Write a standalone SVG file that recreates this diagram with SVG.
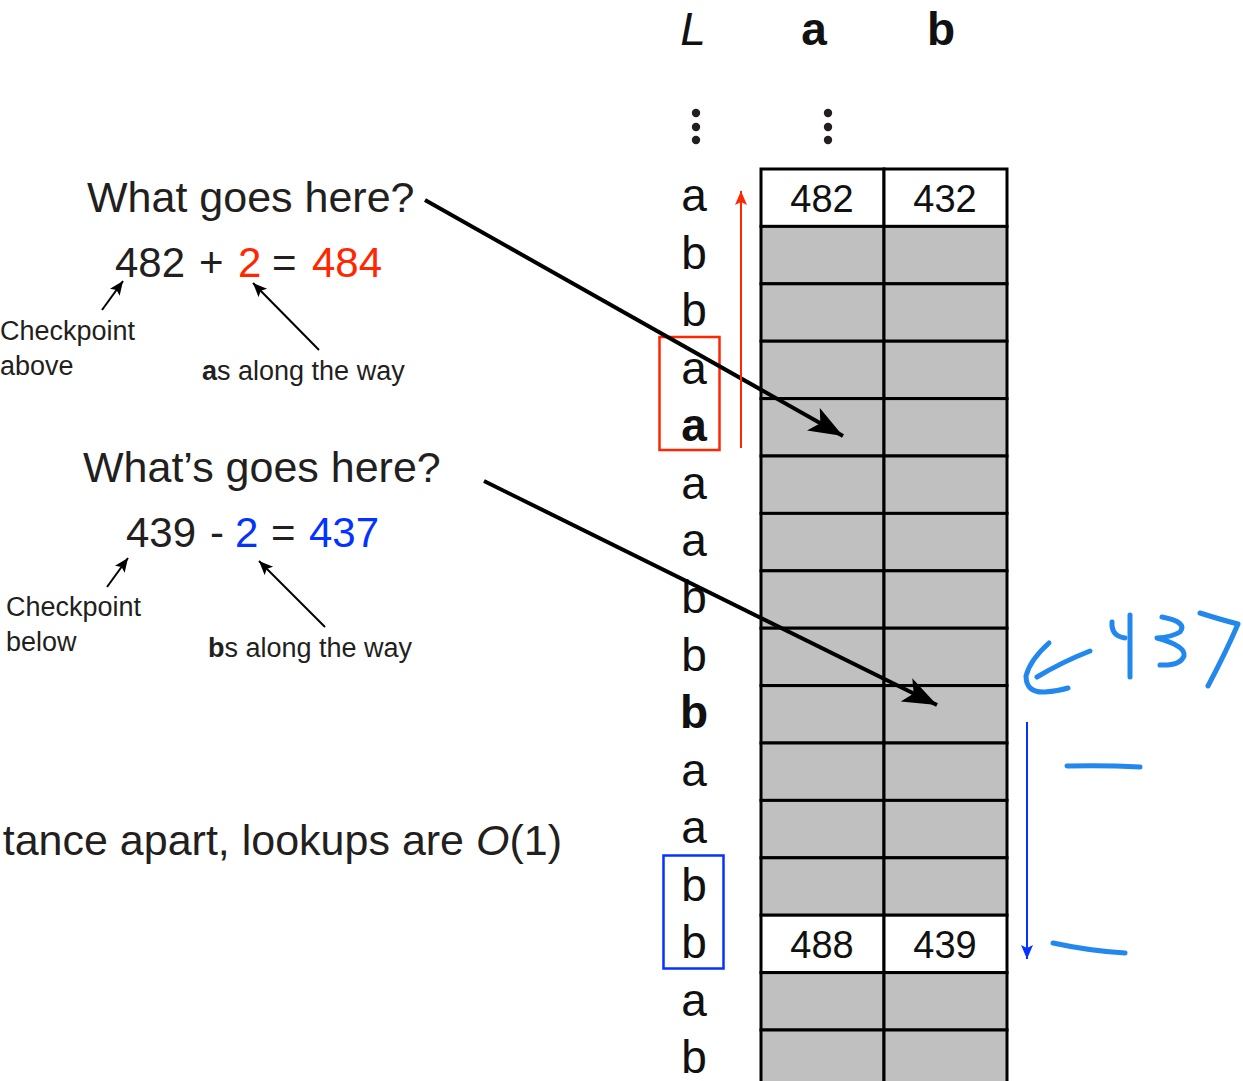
<svg xmlns="http://www.w3.org/2000/svg" width="1243" height="1081" viewBox="0 0 1243 1081">
<style>
.t{font-family:"Liberation Sans",Arial,sans-serif;fill:#231f20}
.big{font-size:43px}
.num{font-size:42px}
.sm{font-size:27px}
.lc{font-family:"Liberation Sans",Arial,sans-serif;font-size:46px;fill:#111;text-anchor:middle}
.cell{font-family:"Liberation Sans",Arial,sans-serif;font-size:38px;fill:#111;text-anchor:middle}
.g{fill:#c0c0c0;stroke:#000;stroke-width:3}
.w{fill:#fff;stroke:#000;stroke-width:3}
.hand{fill:none;stroke:#2288ee;stroke-width:5;stroke-linecap:round;stroke-linejoin:round}
</style>
<defs>
<marker id="bigArr" markerUnits="userSpaceOnUse" markerWidth="44" markerHeight="34" refX="34" refY="13" orient="auto">
<path d="M0,0 L34,13 L0,26 L8,13 Z" fill="#000"/>
</marker>
<marker id="smArr" markerUnits="userSpaceOnUse" markerWidth="20" markerHeight="16" refX="14" refY="6" orient="auto">
<path d="M0,0 L14,6 L0,12 L3,6 Z" fill="#000"/>
</marker>
<marker id="redArr" markerUnits="userSpaceOnUse" markerWidth="20" markerHeight="16" refX="14" refY="6" orient="auto">
<path d="M0,0 L14,6 L0,12 L3,6 Z" fill="#ff2600"/>
</marker>
<marker id="blueArr" markerUnits="userSpaceOnUse" markerWidth="20" markerHeight="16" refX="14" refY="6" orient="auto">
<path d="M0,0 L14,6 L0,12 L3,6 Z" fill="#0433ff"/>
</marker>
</defs>

<g id="header">
<text class="lc" x="693" y="45" font-style="italic">L</text>
<text class="lc" x="814" y="45" font-weight="bold">a</text>
<text class="lc" x="941" y="45" font-weight="bold">b</text>
<g fill="#231f20">
<circle cx="696" cy="113" r="4.2"/><circle cx="696" cy="127" r="4.2"/><circle cx="696" cy="140" r="4.2"/>
<circle cx="828" cy="113" r="4.2"/><circle cx="828" cy="127" r="4.2"/><circle cx="828" cy="140" r="4.2"/>
</g>
</g>

<g id="table">
<rect class="w" x="761" y="169" width="123" height="57.4"/><rect class="w" x="884" y="169" width="123" height="57.4"/>
<rect class="g" x="761" y="226.4" width="123" height="57.4"/><rect class="g" x="884" y="226.4" width="123" height="57.4"/>
<rect class="g" x="761" y="283.8" width="123" height="57.4"/><rect class="g" x="884" y="283.8" width="123" height="57.4"/>
<rect class="g" x="761" y="341.2" width="123" height="57.4"/><rect class="g" x="884" y="341.2" width="123" height="57.4"/>
<rect class="g" x="761" y="398.6" width="123" height="57.4"/><rect class="g" x="884" y="398.6" width="123" height="57.4"/>
<rect class="g" x="761" y="456" width="123" height="57.4"/><rect class="g" x="884" y="456" width="123" height="57.4"/>
<rect class="g" x="761" y="513.4" width="123" height="57.4"/><rect class="g" x="884" y="513.4" width="123" height="57.4"/>
<rect class="g" x="761" y="570.8" width="123" height="57.4"/><rect class="g" x="884" y="570.8" width="123" height="57.4"/>
<rect class="g" x="761" y="628.2" width="123" height="57.4"/><rect class="g" x="884" y="628.2" width="123" height="57.4"/>
<rect class="g" x="761" y="685.6" width="123" height="57.4"/><rect class="g" x="884" y="685.6" width="123" height="57.4"/>
<rect class="g" x="761" y="743" width="123" height="57.4"/><rect class="g" x="884" y="743" width="123" height="57.4"/>
<rect class="g" x="761" y="800.4" width="123" height="57.4"/><rect class="g" x="884" y="800.4" width="123" height="57.4"/>
<rect class="g" x="761" y="857.8" width="123" height="57.4"/><rect class="g" x="884" y="857.8" width="123" height="57.4"/>
<rect class="w" x="761" y="915.2" width="123" height="57.4"/><rect class="w" x="884" y="915.2" width="123" height="57.4"/>
<rect class="g" x="761" y="972.6" width="123" height="57.4"/><rect class="g" x="884" y="972.6" width="123" height="57.4"/>
<rect class="g" x="761" y="1030" width="123" height="57.4"/><rect class="g" x="884" y="1030" width="123" height="57.4"/>
<text class="cell" x="822" y="212">482</text>
<text class="cell" x="945" y="212">432</text>
<text class="cell" x="822" y="958">488</text>
<text class="cell" x="945" y="958">439</text>
</g>

<g id="L-column">
<text class="lc" x="694" y="211">a</text>
<text class="lc" x="694" y="269">b</text>
<text class="lc" x="694" y="326">b</text>
<text class="lc" x="694" y="384">a</text>
<text class="lc" x="694" y="441" font-weight="bold">a</text>
<text class="lc" x="694" y="499">a</text>
<text class="lc" x="694" y="556">a</text>
<text class="lc" x="694" y="613">b</text>
<text class="lc" x="694" y="671">b</text>
<text class="lc" x="694" y="728" font-weight="bold">b</text>
<text class="lc" x="694" y="786">a</text>
<text class="lc" x="694" y="843">a</text>
<text class="lc" x="694" y="901">b</text>
<text class="lc" x="694" y="958">b</text>
<text class="lc" x="694" y="1016">a</text>
<text class="lc" x="694" y="1073">b</text>
</g>

<g id="red-box"><rect x="659.5" y="337" width="60" height="113" fill="none" stroke="#ff2600" stroke-width="2.5"/></g>
<g id="blue-box"><rect x="663.5" y="855.5" width="60" height="113" fill="none" stroke="#0433ff" stroke-width="2.5"/></g>

<g id="question1">
<text class="t big" x="87" y="212">What goes here?</text>
<text class="t num" x="115" y="277">482</text>
<text class="t num" x="199" y="277">+</text>
<text class="t num" x="238" y="277" style="fill:#ff2600">2</text>
<text class="t num" x="272" y="277">=</text>
<text class="t num" x="312" y="277" style="fill:#ff2600">484</text>
<text class="t sm" x="0" y="340">Checkpoint</text>
<text class="t sm" x="0" y="375">above</text>
<text class="t sm" x="202" y="380"><tspan font-weight="bold">a</tspan>s along the way</text>
</g>

<g id="question2">
<text class="t big" x="83" y="482">What’s goes here?</text>
<text class="t num" x="126" y="547">439</text>
<text class="t num" x="210" y="547">-</text>
<text class="t num" x="235" y="547" style="fill:#0433ff">2</text>
<text class="t num" x="271" y="547">=</text>
<text class="t num" x="309" y="547" style="fill:#0433ff">437</text>
<text class="t sm" x="6" y="616">Checkpoint</text>
<text class="t sm" x="6" y="651">below</text>
<text class="t sm" x="208" y="657"><tspan font-weight="bold">b</tspan>s along the way</text>
</g>

<g id="footer">
<text class="t big" x="562" y="855" text-anchor="end">tance apart, lookups are <tspan font-style="italic">O</tspan>(1)</text>
</g>

<g id="handwriting">
<path class="hand" d="M1090,651 Q1062,662 1037,677"/>
<path class="hand" d="M1049,643 Q1030,660 1026,676 Q1026,693 1045,692 Q1058,691 1068,688"/>
<path class="hand" d="M1112,622 Q1111,636 1125,638"/>
<path class="hand" d="M1130,615 L1130,677"/>
<path class="hand" d="M1162,617 Q1188,622 1180,632 Q1172,637 1157,638 Q1186,646 1184,656 Q1180,666 1160,665"/>
<path class="hand" d="M1200,613 Q1222,620 1238,624 Q1226,652 1208,686"/>
<path class="hand" d="M1067,766 Q1104,765 1140,767"/>
<path class="hand" d="M1053,943 Q1090,951 1125,953"/>
</g>

<g id="connectors">
<line x1="425" y1="200" x2="843" y2="436" stroke="#000" stroke-width="4" marker-end="url(#bigArr)"/>
<line x1="484" y1="481" x2="937" y2="705" stroke="#000" stroke-width="4" marker-end="url(#bigArr)"/>
<line x1="102" y1="310" x2="123" y2="281" stroke="#000" stroke-width="2" marker-end="url(#smArr)"/>
<line x1="319" y1="350" x2="253" y2="283" stroke="#000" stroke-width="2" marker-end="url(#smArr)"/>
<line x1="107" y1="587" x2="128" y2="558" stroke="#000" stroke-width="2" marker-end="url(#smArr)"/>
<line x1="325" y1="627" x2="259" y2="561" stroke="#000" stroke-width="2" marker-end="url(#smArr)"/>
<line x1="741" y1="448" x2="741" y2="191" stroke="#ff2600" stroke-width="2" marker-end="url(#redArr)"/>
<line x1="1027" y1="722" x2="1027" y2="959" stroke="#0433ff" stroke-width="2" marker-end="url(#blueArr)"/>
</g>
</svg>
